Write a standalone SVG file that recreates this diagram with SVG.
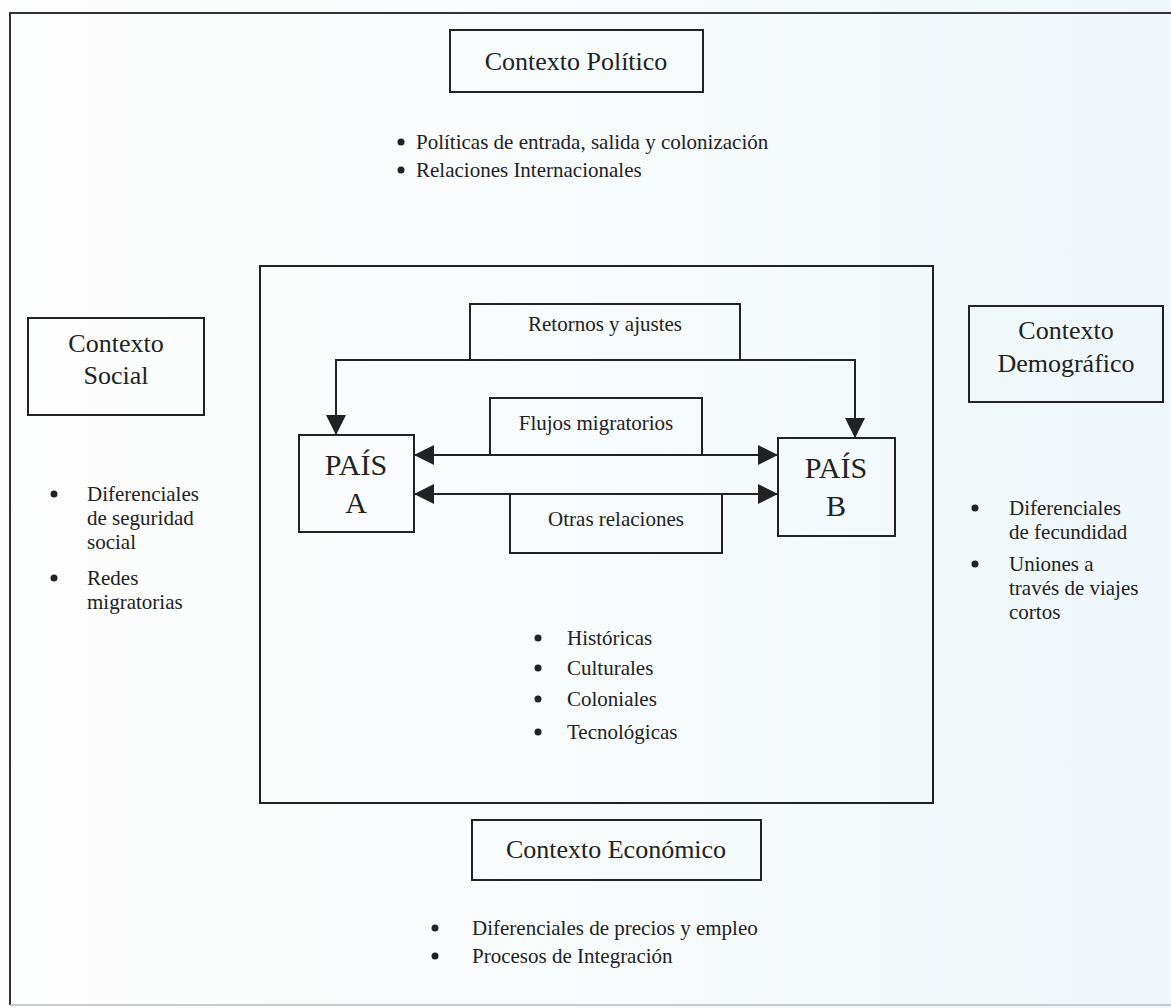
<svg xmlns="http://www.w3.org/2000/svg" width="1171" height="1008" viewBox="0 0 1171 1008">
<defs>
<linearGradient id="bg" x1="0" y1="0" x2="1" y2="0">
<stop offset="0" stop-color="#fdfdfd"/>
<stop offset="0.5" stop-color="#f8fbfc"/>
<stop offset="1" stop-color="#eff7fa"/>
</linearGradient>
<marker id="ah" viewBox="0 0 20 20" refX="20" refY="10" markerWidth="20" markerHeight="20" markerUnits="userSpaceOnUse" orient="auto-start-reverse">
<path d="M0,0 L20,10 L0,20 z" fill="#222"/>
</marker>
</defs>
<style>
.box{fill:none;stroke:#222;stroke-width:2}
.frame{fill:none;stroke:#333;stroke-width:2}
.conn{fill:none;stroke:#222;stroke-width:2}
text{font-family:"Liberation Serif","Times New Roman",serif;fill:#222}
.t{font-size:21px}
.h{font-size:26px}
.p{font-size:30px}
.c{text-anchor:middle}
.dot{fill:#222}
</style>
<rect x="0" y="0" width="1171" height="1008" fill="url(#bg)"/>
<g id="frame">
<path class="frame" d="M1171,13 H10 V1005"/>
<path d="M10,1005 H1171" stroke="#bbb" stroke-width="1.5" fill="none"/>
</g>

<g id="contexto-politico">
<rect class="box" x="450" y="30" width="253" height="62"/>
<text class="h c" x="576" y="70">Contexto Político</text>
<circle class="dot" cx="401" cy="142" r="3.5"/>
<text class="t" x="416" y="149">Políticas de entrada, salida y colonización</text>
<circle class="dot" cx="401" cy="170" r="3.5"/>
<text class="t" x="416" y="177">Relaciones Internacionales</text>
</g>

<g id="contexto-social">
<rect class="box" x="28" y="318" width="176" height="97"/>
<text class="h c" x="116" y="352">Contexto</text>
<text class="h c" x="116" y="384">Social</text>
<circle class="dot" cx="54" cy="494" r="3.5"/>
<text class="t" x="87" y="501">Diferenciales</text>
<text class="t" x="87" y="525">de seguridad</text>
<text class="t" x="87" y="549">social</text>
<circle class="dot" cx="54" cy="578" r="3.5"/>
<text class="t" x="87" y="585">Redes</text>
<text class="t" x="87" y="609">migratorias</text>
</g>

<g id="contexto-demografico">
<rect class="box" x="969" y="306" width="194" height="96"/>
<text class="h c" x="1066" y="339">Contexto</text>
<text class="h c" x="1066" y="372">Demográfico</text>
<circle class="dot" cx="975" cy="508" r="3.5"/>
<text class="t" x="1009" y="515">Diferenciales</text>
<text class="t" x="1009" y="539">de fecundidad</text>
<circle class="dot" cx="975" cy="564" r="3.5"/>
<text class="t" x="1009" y="571">Uniones a</text>
<text class="t" x="1009" y="595">través de viajes</text>
<text class="t" x="1009" y="619">cortos</text>
</g>

<g id="contexto-economico">
<rect class="box" x="472" y="820" width="289" height="60"/>
<text class="h c" x="616" y="858">Contexto Económico</text>
<circle class="dot" cx="435" cy="928" r="3.5"/>
<text class="t" x="472" y="935">Diferenciales de precios y empleo</text>
<circle class="dot" cx="435" cy="956" r="3.5"/>
<text class="t" x="472" y="963">Procesos de Integración</text>
</g>

<g id="relaciones-entre-paises">
<rect class="box" x="260" y="266" width="673" height="537"/>
<circle class="dot" cx="538" cy="638" r="3.5"/>
<text class="t" x="567" y="645">Históricas</text>
<circle class="dot" cx="538" cy="668" r="3.5"/>
<text class="t" x="567" y="675">Culturales</text>
<circle class="dot" cx="538" cy="699" r="3.5"/>
<text class="t" x="567" y="706">Coloniales</text>
<circle class="dot" cx="538" cy="732" r="3.5"/>
<text class="t" x="567" y="739">Tecnológicas</text>
</g>

<g id="retornos">
<rect class="box" x="470" y="304" width="270" height="56"/>
<text class="t c" x="605" y="331">Retornos y ajustes</text>
</g>

<g id="flujos">
<rect class="box" x="490" y="398" width="212" height="57"/>
<text class="t c" x="596" y="430">Flujos migratorios</text>
</g>

<g id="otras">
<rect class="box" x="510" y="494" width="212" height="59"/>
<text class="t c" x="616" y="526">Otras relaciones</text>
</g>

<g id="pais-a">
<rect class="box" x="299" y="435" width="115" height="97"/>
<text class="p c" x="356" y="475">PAÍS</text>
<text class="p c" x="356" y="513">A</text>
</g>

<g id="pais-b">
<rect class="box" x="778" y="438" width="117" height="98"/>
<text class="p c" x="836" y="478">PAÍS</text>
<text class="p c" x="836" y="516">B</text>
</g>

<g id="connectors">
<path class="conn" d="M470,360 H336 V435" marker-end="url(#ah)"/>
<path class="conn" d="M740,360 H855 V438" marker-end="url(#ah)"/>
<line class="conn" x1="414" y1="455" x2="778" y2="455" marker-start="url(#ah)" marker-end="url(#ah)"/>
<line class="conn" x1="414" y1="494" x2="778" y2="494" marker-start="url(#ah)" marker-end="url(#ah)"/>
</g>
</svg>
